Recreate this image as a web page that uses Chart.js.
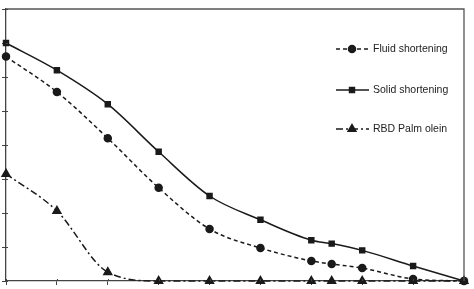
<!DOCTYPE html>
<html>
<head>
<meta charset="utf-8">
<script src="https://cdn.jsdelivr.net/npm/chart.js@4/dist/chart.umd.min.js"></script>
<style>
html,body{margin:0;padding:0;background:#fff;}
#wrap{width:474px;height:289px;position:relative;}
</style>
</head>
<body>
<div id="wrap"><canvas id="c" width="474" height="289"></canvas></div>
<script>
const xValues = [0, 1, 2, 3, 4, 5, 6, 6.4, 7, 8, 9];
const fluidShortening = [66, 55.6, 42, 27.4, 15.3, 9.7, 5.9, 5, 3.8, 0.6, 0];
const solidShortening = [70, 62, 52, 38, 25, 18, 12, 11, 9, 4.4, 0];
const rbdPalmOlein = [31.5, 20.6, 2.6, 0, 0, 0, 0, 0, 0, 0, 0];
const seriesNames = ['Fluid shortening', 'Solid shortening', 'RBD Palm olein'];

const ink = '#1a1a1a';
function pts(arr){ return xValues.map((x,i)=>({x:x, y:arr[i]})); }

const boxPlugin = {
  id:'box',
  afterDraw(chart){
    const {ctx, chartArea:a} = chart;
    ctx.save();
    ctx.strokeStyle = '#555';
    ctx.lineWidth = 1.3;
    ctx.beginPath();
    ctx.moveTo(a.left, a.top); ctx.lineTo(a.right, a.top); ctx.lineTo(a.right, a.bottom);
    ctx.stroke();
    // inner part of the crossing tick marks
    ctx.strokeStyle = '#444';
    ctx.lineWidth = 1;
    const xs = chart.scales.x, ys = chart.scales.y;
    ctx.beginPath();
    xs.ticks.forEach(t=>{ const p = Math.round(xs.getPixelForValue(t.value))+0.5; ctx.moveTo(p, a.bottom); ctx.lineTo(p, a.bottom-2); });
    ys.ticks.forEach(t=>{ const p = Math.round(ys.getPixelForValue(t.value))+0.5; ctx.moveTo(a.left, p); ctx.lineTo(a.left+2, p); });
    ctx.stroke();
    ctx.restore();
  }
};

const legendPlugin = {
  id:'customLegend',
  afterDraw(chart){
    const ctx = chart.ctx;
    const ys = [49, 90, 129];
    ctx.save();
    chart.data.datasets.forEach((ds,i)=>{
      const y = ys[i];
      ctx.strokeStyle = ink;
      ctx.fillStyle = ink;
      ctx.lineWidth = ds.borderWidth;
      ctx.setLineDash(ds.borderDash || []);
      ctx.beginPath(); ctx.moveTo(336,y); ctx.lineTo(369,y); ctx.stroke();
      ctx.setLineDash([]);
      Chart.helpers.drawPoint(ctx, {pointStyle: ds.pointStyle, radius: ds.pointRadius, borderWidth: 1}, 352, y);
      ctx.fillStyle = '#222';
      ctx.font = '10.5px "Liberation Sans", Arial, sans-serif';
      ctx.textBaseline = 'middle';
      ctx.fillText(ds.label, 373, y+0.5);
    });
    ctx.restore();
  }
};

new Chart(document.getElementById('c'), {
  type:'line',
  data:{
    datasets:[
      {label:seriesNames[0], data:pts(fluidShortening), borderColor:ink, backgroundColor:ink,
       borderWidth:1.5, borderDash:[4,3], pointStyle:'circle', pointRadius:3.5,
       cubicInterpolationMode:'monotone'},
      {label:seriesNames[1], data:pts(solidShortening), borderColor:ink, backgroundColor:ink,
       borderWidth:1.5, pointStyle:'rect', pointRadius:3.5,
       cubicInterpolationMode:'monotone'},
      {label:seriesNames[2], data:pts(rbdPalmOlein), borderColor:ink, backgroundColor:ink,
       borderWidth:1.5, borderDash:[7,3,2,3], pointStyle:'triangle', pointRadius:4.5,
       cubicInterpolationMode:'monotone'}
    ]
  },
  options:{
    responsive:false,
    animation:false,
    clip:false,
    layout:{padding:{left:2, right:10, top:9, bottom:4}},
    plugins:{legend:{display:false}, tooltip:{enabled:false}},
    scales:{
      x:{type:'linear', min:0, max:9,
         ticks:{display:false, stepSize:1},
         grid:{drawOnChartArea:false, tickLength:4, color:'#444', lineWidth:1},
         border:{color:'#444', width:1.3}},
      y:{min:0, max:80,
         ticks:{display:false, stepSize:10},
         grid:{drawOnChartArea:false, tickLength:4, color:'#444', lineWidth:1},
         border:{color:'#444', width:1.3}}
    }
  },
  plugins:[boxPlugin, legendPlugin]
});
</script>
</body>
</html>
